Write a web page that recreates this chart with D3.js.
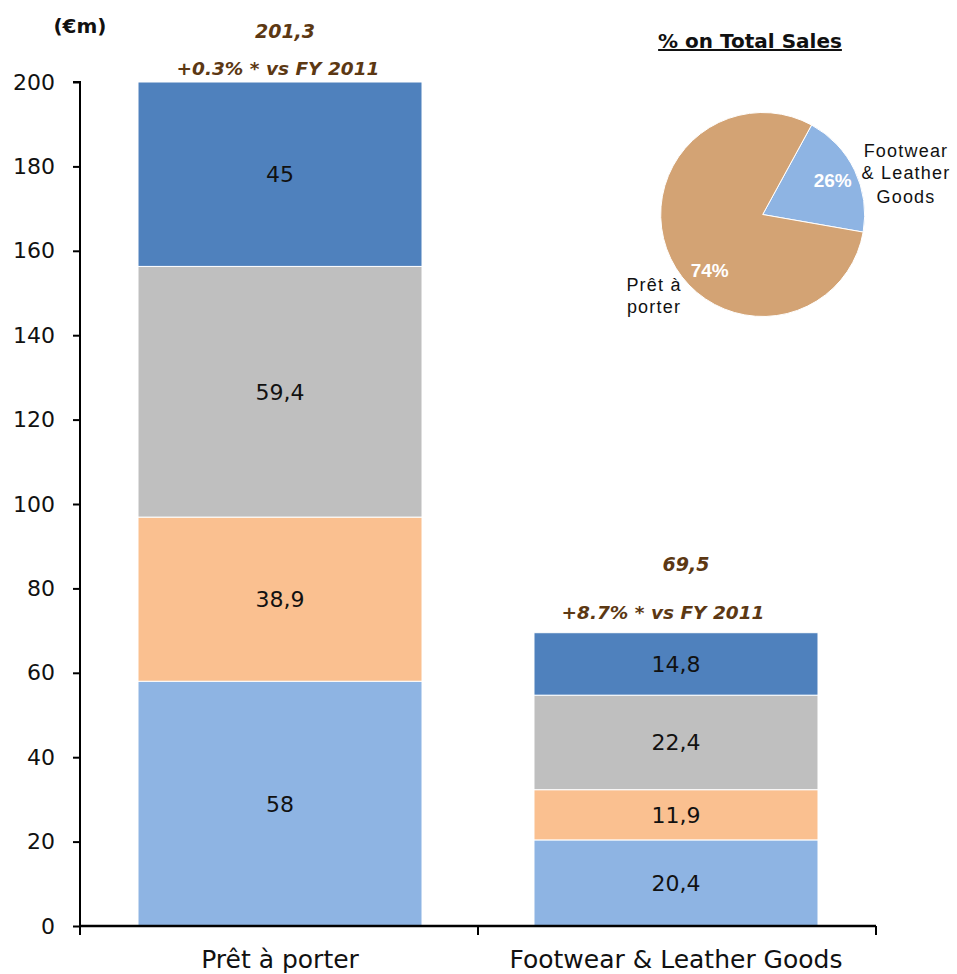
<!DOCTYPE html>
<html><head><meta charset="utf-8">
<script src="https://cdn.jsdelivr.net/npm/d3@7"></script>
<style>body{margin:0;background:#fff}svg{display:block}</style>
</head><body>
<svg id="c" width="957" height="974"></svg>
<script>
// ---- data ----
const categories = ["Prêt à porter", "Footwear & Leather Goods"];
const seriesNames = ["s1", "s2", "s3", "s4"]; // bottom to top
const seriesValues = [
  [58, 20.4],
  [38.9, 11.9],
  [59.4, 22.4],
  [45, 14.8]
];
const segmentLabels = [
  ["58", "20,4"],
  ["38,9", "11,9"],
  ["59,4", "22,4"],
  ["45", "14,8"]
];
const totals = ["201,3", "69,5"];
const growth = ["+0.3% * vs FY 2011", "+8.7% * vs FY 2011"];
const yTicks = [0, 20, 40, 60, 80, 100, 120, 140, 160, 180, 200];
const pieNames = ["Footwear & Leather Goods", "Prêt à porter"];
const pieShares = [19.8, 80.2];   // slice sizes as drawn
const pieLabels = ["26%", "74%"];

// ---- styles ----
const colors = ["#8EB4E3", "#FAC090", "#BFBFBF", "#4F81BD"];
const pieColors = ["#8EB4E3", "#D3A374"];
const brown = "#5C3813";
const F = "'DejaVu Sans', sans-serif";

const svg = d3.select("#c");
const y = d3.scaleLinear().domain([0, 200]).range([926, 82]);
const x = d3.scaleBand().domain(categories).range([80, 876])
  .paddingInner(0.2828).paddingOuter(0.1465);

// stacked bars
const rows = categories.map((c, i) => {
  const r = {cat: c};
  seriesNames.forEach((s, j) => r[s] = seriesValues[j][i]);
  return r;
});
const stack = d3.stack().keys(seriesNames)(rows);
stack.forEach((layer, j) => {
  const g = svg.append("g");
  layer.forEach((d, i) => {
    const y0 = y(Math.min(d[0], 200)), y1 = y(Math.min(d[1], 200));
    g.append("rect")
      .attr("x", x(categories[i])).attr("width", x.bandwidth())
      .attr("y", y1).attr("height", y0 - y1)
      .attr("fill", colors[j]).attr("stroke", "#fff").attr("stroke-width", 1);
    g.append("text")
      .attr("x", x(categories[i]) + x.bandwidth() / 2)
      .attr("y", (y0 + y1) / 2)
      .attr("dy", "0.36em").attr("text-anchor", "middle")
      .attr("font-family", F).attr("font-size", 22).attr("fill", "#111")
      .text(segmentLabels[j][i]);
  });
});

// y axis
const ya = svg.append("g").attr("transform", "translate(80,0)")
  .call(d3.axisLeft(y).tickValues(yTicks).tickSize(7).tickPadding(18).tickFormat(d3.format("d")));
ya.select(".domain").attr("stroke", "#000").attr("stroke-width", 2).attr("d", "M-7,82H0V926");
ya.selectAll(".tick line").attr("stroke", "#000").attr("stroke-width", 2);
ya.selectAll(".tick text").attr("font-family", F).attr("font-size", 22).attr("fill", "#111");

// x axis
const step = x.step();
const bounds = [x.range()[0], x(categories[0]) + x.bandwidth() + step * x.paddingInner() / 2, x.range()[1]];
const xa = svg.append("g");
xa.append("line").attr("x1", bounds[0]).attr("x2", bounds[2]).attr("y1", y(0)).attr("y2", y(0))
  .attr("stroke", "#000").attr("stroke-width", 2.5);
bounds.forEach(b => xa.append("line").attr("x1", b).attr("x2", b).attr("y1", y(0)).attr("y2", y(0) + 9)
  .attr("stroke", "#000").attr("stroke-width", 2));
categories.forEach(c => svg.append("text")
  .attr("x", x(c) + x.bandwidth() / 2).attr("y", 968).attr("text-anchor", "middle")
  .attr("font-family", F).attr("font-size", 25).attr("fill", "#111").text(c));

// unit label
svg.append("text").attr("x", 80).attr("y", 33).attr("text-anchor", "middle")
  .attr("font-family", F).attr("font-weight", "bold").attr("font-size", 20).attr("fill", "#111").text("(€m)");

// totals + growth annotations
const totalPos = [[285, 38, 278, 75], [686, 571, 663, 619]];
categories.forEach((c, i) => {
  svg.append("text").attr("x", totalPos[i][0]).attr("y", totalPos[i][1]).attr("text-anchor", "middle")
    .attr("font-family", F).attr("font-weight", "bold").attr("font-style", "italic")
    .attr("font-size", 19).attr("fill", brown).text(totals[i]);
  svg.append("text").attr("x", totalPos[i][2]).attr("y", totalPos[i][3]).attr("text-anchor", "middle")
    .attr("font-family", F).attr("font-weight", "bold").attr("font-style", "italic")
    .attr("font-size", 18.5).attr("fill", brown).text(growth[i]);
});

// pie
svg.append("text").attr("x", 750).attr("y", 48).attr("text-anchor", "middle")
  .attr("font-family", F).attr("font-weight", "bold").attr("font-size", 20)
  .attr("text-decoration", "underline").attr("fill", "#111").text("% on Total Sales");
const pg = svg.append("g").attr("transform", "translate(762.7,214.5)");
const arcs = d3.pie().sort(null).startAngle(0.5).endAngle(0.5 + 2 * Math.PI)(pieShares);
const arc = d3.arc().innerRadius(0).outerRadius(102);
pg.selectAll("path").data(arcs).join("path").attr("d", arc)
  .attr("fill", (d, i) => pieColors[i]).attr("stroke", "#fff").attr("stroke-width", 1);
const pctPos = [[70, -28], [-53, 62]];
pieLabels.forEach((t, i) => pg.append("text").attr("x", pctPos[i][0]).attr("y", pctPos[i][1])
  .attr("text-anchor", "middle").attr("font-family", "'Liberation Sans', Arial, sans-serif")
  .attr("font-weight", "bold").attr("font-size", 19).attr("fill", "#fff").text(t));
const nameLines = [["Footwear", "& Leather", "Goods"], ["Prêt à", "porter"]];
const namePos = [[906, [157, 179, 203]], [654, [291, 313]]];
nameLines.forEach((lines, i) => lines.forEach((l, k) => svg.append("text")
  .attr("x", namePos[i][0]).attr("y", namePos[i][1][k]).attr("text-anchor", "middle")
  .attr("font-family", "'Liberation Sans', Arial, sans-serif").attr("font-size", 18)
  .attr("letter-spacing", 1.2).attr("fill", "#111").text(l)));
</script>
</body></html>
